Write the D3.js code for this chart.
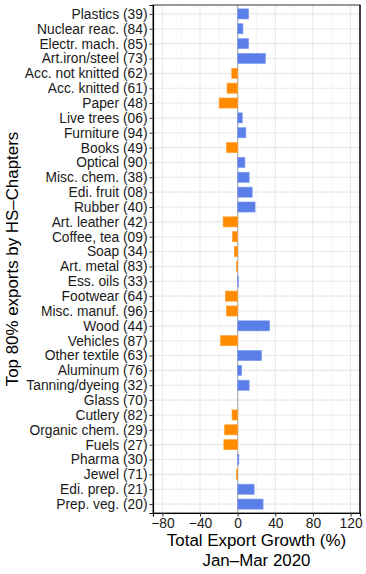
<!DOCTYPE html>
<html><head><meta charset="utf-8">
<script src="https://cdn.jsdelivr.net/npm/d3@7"></script>
<style>body{margin:0;background:#fff}svg{display:block}text{font-family:"Liberation Sans",Arial,sans-serif}</style>
</head><body><svg id="c" width="366" height="574"></svg>
<script>
const categories = ["Plastics (39)","Nuclear reac. (84)","Electr. mach. (85)","Art.iron/steel (73)","Acc. not knitted (62)","Acc. knitted (61)","Paper (48)","Live trees (06)","Furniture (94)","Books (49)","Optical (90)","Misc. chem. (38)","Edi. fruit (08)","Rubber (40)","Art. leather (42)","Coffee, tea (09)","Soap (34)","Art. metal (83)","Ess. oils (33)","Footwear (64)","Misc. manuf. (96)","Wood (44)","Vehicles (87)","Other textile (63)","Aluminum (76)","Tanning/dyeing (32)","Glass (70)","Cutlery (82)","Organic chem. (29)","Fuels (27)","Pharma (30)","Jewel (71)","Edi. prep. (21)","Prep. veg. (20)"];
const growth = [11.6,5.6,11.6,29.5,-6.3,-11.3,-19.7,4.9,8.7,-12,7.7,12.2,15.4,18.5,-15.5,-5.7,-3.5,-1.5,0.8,-13,-12,34,-18.3,25.3,4.2,12.2,0,-6,-14,-14.7,1.3,-1.5,17.5,27];
const xTicks = [-80,-40,0,40,80,120];
const xMinor = [-60,-20,20,60,100];
const xTitle = ["Total Export Growth (%)","Jan\u2013Mar 2020"];
const yTitle = "Top 80% exports by HS\u2013Chapters";

const svg = d3.select("#c");
const L=153,R=360,T=5,B=513;
const x = d3.scaleLinear().domain([-90,130]).range([L,R]);
const y = d3.scalePoint().domain(categories).range([T,B]).padding(0.6);
const step = y.step();
const bh = step*0.68;

const g = svg.append("g");
g.selectAll(".gmin").data(xMinor).join("line").attr("x1",d=>x(d)).attr("x2",d=>x(d)).attr("y1",T).attr("y2",B).attr("stroke","#f0f0f0").attr("stroke-width",0.6);
g.selectAll(".gmaj").data(xTicks).join("line").attr("x1",d=>x(d)).attr("x2",d=>x(d)).attr("y1",T).attr("y2",B).attr("stroke","#e8e8e8").attr("stroke-width",1.1);
g.selectAll(".gy").data(categories).join("line").attr("x1",L).attr("x2",R).attr("y1",d=>y(d)).attr("y2",d=>y(d)).attr("stroke","#e8e8e8").attr("stroke-width",1.1);
g.append("line").attr("x1",x(0)).attr("x2",x(0)).attr("y1",T).attr("y2",B).attr("stroke","#b0b0b0").attr("stroke-width",1.2);
g.selectAll(".bar").data(categories).join("rect")
  .attr("x",(d,i)=>x(Math.min(0,growth[i])))
  .attr("width",(d,i)=>Math.abs(x(growth[i])-x(0)))
  .attr("y",d=>y(d)-bh/2).attr("height",bh)
  .attr("fill",(d,i)=>growth[i]>=0?"#5b7fe8":"#ff8c00")
  .attr("stroke",(d,i)=>growth[i]>=0?"#7d9af0":"#ffa030").attr("stroke-width",0.6);
svg.append("rect").attr("x",L).attr("y",T).attr("width",R-L).attr("height",B-T).attr("fill","none").attr("stroke","#333").attr("stroke-width",1);
svg.append("line").attr("x1",R).attr("x2",R).attr("y1",T).attr("y2",B).attr("stroke","#000").attr("stroke-width",1.2);

const ax = svg.append("g").attr("transform",`translate(0,${B})`).call(d3.axisBottom(x).tickValues(xTicks).tickSize(3.5).tickPadding(2).tickFormat(d=>d<0?"\u2212"+Math.abs(d):d));
const ay = svg.append("g").attr("transform",`translate(${L},0)`).call(d3.axisLeft(y).tickSize(3.5).tickPadding(2));
[ax,ay].forEach(a=>{a.select(".domain").attr("stroke","#000").attr("stroke-width",1.2);a.selectAll(".tick line").attr("stroke","#333");a.selectAll("text").attr("fill","#1a1a1a").attr("font-size",13.8).attr("font-family","'Liberation Sans',Arial,sans-serif");});
ax.selectAll("text").attr("dy","0.75em").attr("y",5);

svg.append("text").attr("x",(L+R)/2).attr("y",546).attr("text-anchor","middle").attr("font-size",16.9).attr("fill","#000").text(xTitle[0]);
svg.append("text").attr("x",(L+R)/2).attr("y",566).attr("text-anchor","middle").attr("font-size",16.9).attr("fill","#000").text(xTitle[1]);
svg.append("text").attr("transform",`translate(18,${(T+B)/2}) rotate(-90)`).attr("text-anchor","middle").attr("font-size",16.9).attr("fill","#000").text(yTitle);
</script></body></html>
